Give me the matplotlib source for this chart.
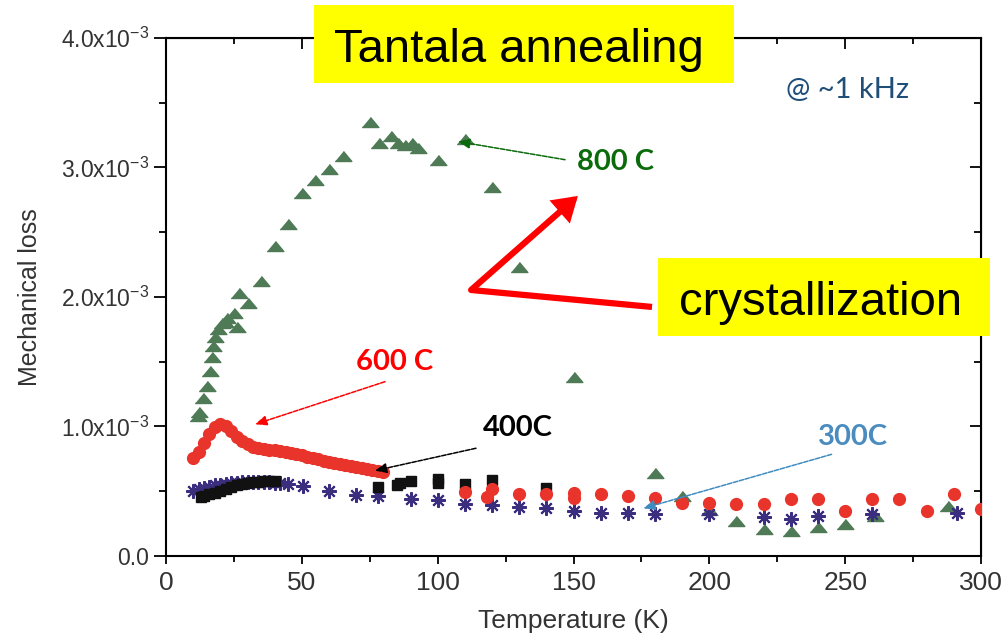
import numpy as np
import matplotlib
matplotlib.use('Agg')
import matplotlib.pyplot as plt
from matplotlib.patches import Rectangle
from matplotlib.ticker import MultipleLocator, FuncFormatter

# mechanical loss in units of 1e-3, temperature in K
# 800 C anneal (triangles)
t800 = [11.9, 12.3, 13.7, 15.0, 16.2, 16.8, 17.4, 18.0, 19.0, 20.5, 21.7, 22.3,
        25.0, 26.0, 27.0, 30.0, 35.0, 40.0, 45.0, 50.0, 55.0, 60.0, 65.0, 75.0,
        78.4, 83.0, 85.5, 88.0, 90.4, 92.9, 100.0, 110.0, 120.0, 130.0, 150.0,
        180.0, 190.0, 200.0, 210.0, 220.0, 230.0, 240.0, 250.0, 261.0, 288.0]
loss800 = [1.08, 1.11, 1.22, 1.31, 1.43, 1.54, 1.62, 1.69, 1.75, 1.80, 1.81, 1.84,
           1.88, 1.77, 2.03, 1.95, 2.12, 2.39, 2.56, 2.80, 2.90, 2.99, 3.09, 3.35,
           3.19, 3.24, 3.19, 3.17, 3.19, 3.15, 3.06, 3.22, 2.85, 2.23, 1.38,
           0.64, 0.46, 0.355, 0.27, 0.21, 0.19, 0.22, 0.245, 0.31, 0.386]

# 600 C anneal (circles): dense low-T sweep, then sparse points
t600 = [10, 12, 14, 16, 18, 20, 22, 24, 26, 28, 30, 32, 34, 36, 38, 40, 42, 44,
        46, 48, 50, 52, 54, 56, 58, 60, 62, 64, 66, 68, 70, 72, 74, 76, 78, 80,
        110, 118, 120, 130, 140, 150, 150, 160, 170, 180, 190, 200, 210, 220,
        230, 240, 250, 260, 270, 280, 290, 300]
loss600 = [0.755, 0.80, 0.87, 0.94, 0.995, 1.02, 1.005, 0.965, 0.92, 0.885, 0.862,
           0.845, 0.835, 0.828, 0.822, 0.815, 0.808, 0.80, 0.792, 0.785, 0.776,
           0.766, 0.756, 0.746, 0.737, 0.728, 0.72, 0.712, 0.704, 0.696, 0.688,
           0.68, 0.672, 0.664, 0.656, 0.65,
           0.497, 0.458, 0.515, 0.476, 0.476, 0.484, 0.446, 0.476, 0.463, 0.45,
           0.407, 0.407, 0.40, 0.40, 0.437, 0.44, 0.35, 0.437, 0.44, 0.347,
           0.479, 0.36]

# 400 C anneal (squares)
t400 = [13, 14, 16, 18, 20, 22, 24, 26, 28, 30, 32, 34, 36, 38, 40,
        78, 85, 86, 90, 100, 100, 110, 120, 140]
loss400 = [0.455, 0.46, 0.475, 0.49, 0.505, 0.52, 0.532, 0.545, 0.555, 0.563,
           0.57, 0.575, 0.578, 0.579, 0.578,
           0.535, 0.55, 0.565, 0.579, 0.592, 0.561, 0.553, 0.587, 0.527]

# 300 C anneal (asterisks)
t300 = [10, 12, 14, 16, 18, 20, 22, 24, 26, 28, 30, 32, 34, 36, 38, 40, 42, 45,
        50.5, 60, 70, 78, 90, 100, 110, 120, 130, 140, 150, 160, 170, 180, 200,
        220, 230, 240, 260, 291]
loss300 = [0.50, 0.515, 0.525, 0.535, 0.545, 0.55, 0.555, 0.56, 0.565, 0.57,
           0.572, 0.574, 0.575, 0.572, 0.568, 0.565, 0.56, 0.555,
           0.54, 0.50, 0.47, 0.46, 0.44, 0.435, 0.40, 0.394, 0.375, 0.368, 0.35,
           0.334, 0.33, 0.322, 0.324, 0.30, 0.283, 0.31, 0.324, 0.33]

x_ticks = [0, 50, 100, 150, 200, 250, 300]
y_ticks = [0.0, 1.0, 2.0, 3.0, 4.0]

plt.rcParams['font.family'] = ['Liberation Sans', 'DejaVu Sans']
plt.rcParams['mathtext.fontset'] = 'custom'
plt.rcParams['mathtext.rm'] = 'Liberation Sans'

fig = plt.figure(figsize=(10.05, 6.36), dpi=100)
ax = fig.add_axes([0.1652, 0.1258, 0.8109, 0.8145])

wide_tri = [(-1, -0.6), (1, -0.6), (0, 0.6)]
ax.plot(t800, loss800, ls='none', marker=wide_tri, ms=12, color='#4e7a55',
        mec='#4e7a55', zorder=2)
ax.plot(t300, loss300, ls='none', marker=(8, 2, 0), ms=10.5, mew=1.5,
        color='#3b2e7e', zorder=3)
ax.plot(t400, loss400, ls='none', marker='s', ms=7.5, color='#111111', zorder=4)
ax.plot(t600, loss600, ls='none', marker='o', ms=8.5, color='#e8342a',
        mec='#e8342a', zorder=5)

ax.set_xlim(0, 300)
ax.set_ylim(0, 4.0)
ax.xaxis.set_minor_locator(MultipleLocator(25))
ax.yaxis.set_minor_locator(MultipleLocator(0.5))
ax.set_xticks(x_ticks)
ax.set_yticks(y_ticks)


def fmt_loss(v, pos):
    if abs(v) < 1e-9:
        return '0.0'
    return f'{v:.1f}x10$^{{\\mathregular{{-3}}}}$'


ax.yaxis.set_major_formatter(FuncFormatter(fmt_loss))
ax.tick_params(axis='x', which='major', direction='out', length=6, width=1.3,
               labelsize=19, labelcolor='#333333', pad=5)
ax.tick_params(axis='x', which='minor', direction='out', length=4, width=1.3)
ax.tick_params(axis='y', which='major', direction='out', length=9, width=1.3,
               labelsize=16.5, labelcolor='#333333', pad=3)
ax.tick_params(axis='y', which='minor', direction='out', length=5, width=1.3)
for sp in ax.spines.values():
    sp.set_linewidth(1.5)

# inward ticks on top and right, no labels
top = ax.secondary_xaxis('top')
top.xaxis.set_major_locator(MultipleLocator(50))
top.xaxis.set_minor_locator(MultipleLocator(25))
top.tick_params(which='major', direction='in', length=8, width=1.3, labeltop=False)
top.tick_params(which='minor', direction='in', length=4, width=1.3)
right = ax.secondary_yaxis('right')
right.yaxis.set_major_locator(MultipleLocator(1.0))
right.yaxis.set_minor_locator(MultipleLocator(0.5))
right.tick_params(which='major', direction='in', length=8, width=1.3, labelright=False)
right.tick_params(which='minor', direction='in', length=5, width=1.3)

ax.set_xlabel('Temperature (K)', fontsize=19, color='#333333', labelpad=10)
ax.set_ylabel('Mechanical loss', fontsize=18, color='#333333', labelpad=14)

# labels and arrows for each anneal temperature
lab = dict(family=['Lato', 'DejaVu Sans'], fontweight='bold', fontsize=21,
           ha='center', va='center', zorder=8)
ax.text(165.6, 3.04, '800 C', color='#0b6b0b', **lab)
ax.text(84.3, 1.50, '600 C', color='#ff0000', **lab)
ax.text(129.6, 0.99, '400C', color='#000000', **lab)
ax.text(252.9, 0.92, '300C', color='#4a8cc0', **lab)
ax.text(251, 3.60, '@ ~1 kHz', color='#1f4e79', family=['Lato', 'DejaVu Sans'],
        fontsize=21, ha='center', va='center')


def thin_arrow(tail, head, color):
    ax.annotate('', xy=head, xytext=tail, zorder=7,
                arrowprops=dict(arrowstyle='-|>,head_length=0.7,head_width=0.3',
                                color=color, lw=1.1, ls=(0, (3, 1)),
                                shrinkA=0, shrinkB=0))


thin_arrow((146.9, 3.06), (107.5, 3.20), '#0b6b0b')
thin_arrow((80.6, 1.346), (32.8, 1.017), '#ff0000')
thin_arrow((114.1, 0.832), (76.9, 0.659), '#000000')
thin_arrow((245.0, 0.785), (175.7, 0.368), '#3f8cc0')

# thick crystallization pointer
ax.plot([178.9, 112.3], [1.923, 2.054], color='#ff0000', lw=4.5,
        solid_capstyle='butt', zorder=7)
ax.annotate('', xy=(151.6, 2.78), xytext=(112.3, 2.054), zorder=7,
            arrowprops=dict(arrowstyle='-|>,head_length=0.55,head_width=0.35',
                            color='#ff0000', lw=4.5, mutation_scale=20,
                            shrinkA=0, shrinkB=0, joinstyle='miter'))

# yellow title boxes
fig.add_artist(Rectangle((0.3124, 0.8695), 0.418, 0.1226, transform=fig.transFigure,
                         facecolor='#ffff00', edgecolor='none', zorder=5))
fig.text(0.5164, 0.9025, 'Tantala annealing', fontsize=34, color='black',
         ha='center', va='baseline', zorder=6)
fig.add_artist(Rectangle((0.6547, 0.4717), 0.3304, 0.1226, transform=fig.transFigure,
                         facecolor='#ffff00', edgecolor='none', zorder=5))
fig.text(0.816, 0.5047, 'crystallization', fontsize=34, color='black',
         ha='center', va='baseline', zorder=6)

fig.savefig('out.png', dpi=100)
